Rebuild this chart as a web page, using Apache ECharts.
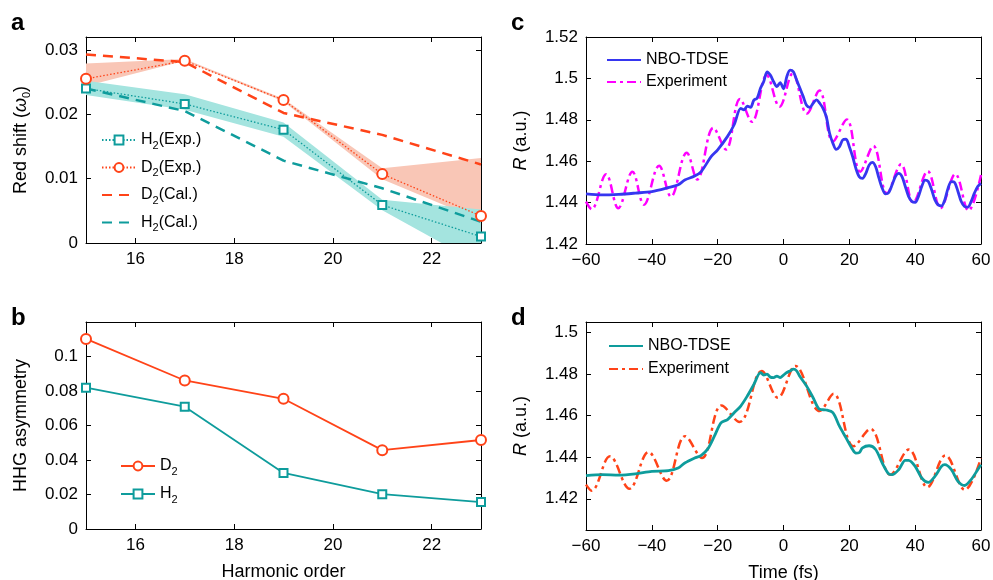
<!DOCTYPE html>
<html lang="en">
<head>
<meta charset="UTF-8">
<title>Red shift, HHG asymmetry and R(t)</title>
<script src="https://cdn.jsdelivr.net/npm/echarts@6/dist/echarts.min.js"></script>
<style>
    html, body { margin: 0; padding: 0; background: #fff; }
    #main { width: 993px; height: 580px; }
</style>
</head>
<body>
<div id="main"></div>
<script type="text/javascript">
    // ---- panel a : red shift vs harmonic order ----
    var harmOrder   = [15, 17, 19, 21, 23];
    var aH2Exp      = [0.0240, 0.0216, 0.0176, 0.0059, 0.0010];
    var aD2Exp      = [0.0255, 0.0283, 0.0222, 0.0107, 0.0042];
    var aD2Cal      = [0.0293, 0.0281, 0.0202, 0.0168, 0.0122];
    var aH2Cal      = [0.0240, 0.0205, 0.0128, 0.0085, 0.0033];
    var aD2BandLo   = [0.0244, 0.0283, 0.0220, 0.0099, 0.0035];
    var aD2BandHi   = [0.0279, 0.0286, 0.0224, 0.0116, 0.0132];
    var aH2BandLo   = [0.0230, 0.0207, 0.0165, 0.0051, -0.0034];
    var aH2BandHi   = [0.0252, 0.0231, 0.0187, 0.0067, 0.0052];

    // ---- panel b : HHG asymmetry ----
    var bD2 = [0.1102, 0.0861, 0.0755, 0.0457, 0.0516];
    var bH2 = [0.0819, 0.0709, 0.0325, 0.0202, 0.0156];

    // ---- panel c : R(t) H2 ----
    var cTdseT = [-60,-55,-50,-45,-40,-35,-32,-30,-27,-25,-22,-20,-17,-15,-13,-12,-11,-10,-9,-8,-7,-6,-5,-4,-3,-2,-1,0,1,2,3,4,5,6,7,8,9,10,11,12,13,14,15,16,17,18,19,20,21,22,23,24,25,26,27,28,29,30,31,32,33,34,35,36,37,38,39,40,41,42,43,44,45,46,47,48,49,50,51,52,53,54,55,56,57,58,59,60];
    var cTdseR = [1.4442,1.4437,1.4440,1.4446,1.4453,1.4472,1.4486,1.4509,1.4528,1.4550,1.4622,1.4655,1.4720,1.4776,1.4855,1.4848,1.4866,1.4860,1.4895,1.4905,1.4952,1.4985,1.5032,1.5016,1.4984,1.4960,1.4980,1.4950,1.5008,1.5040,1.5032,1.4992,1.4952,1.4912,1.4870,1.4860,1.4880,1.4896,1.4880,1.4855,1.4815,1.4735,1.4687,1.4657,1.4670,1.4703,1.4706,1.4670,1.4622,1.4565,1.4525,1.4517,1.4541,1.4581,1.4594,1.4573,1.4518,1.4469,1.4442,1.4449,1.4486,1.4526,1.4541,1.4526,1.4478,1.4430,1.4405,1.4401,1.4430,1.4478,1.4509,1.4502,1.4462,1.4413,1.4389,1.4384,1.4413,1.4470,1.4501,1.4497,1.4454,1.4405,1.4381,1.4378,1.4405,1.4446,1.4478,1.4493];
    var cExpT = [-60,-58.3,-53.9,-50.2,-45.9,-42.4,-37.8,-34.2,-29.4,-26.2,-21.3,-17.5,-13.2,-9.6,-5.1,-1.2,2.8,7.1,10.9,15.0,19.2,23.3,27.3,31.4,35.7,39.4,43.8,47.7,52.2,56.2,60];
    var cExpR = [1.4405,1.4368,1.4537,1.4373,1.4549,1.4390,1.4578,1.4429,1.4641,1.4512,1.4761,1.4657,1.4901,1.4790,1.5016,1.4863,1.5024,1.4830,1.4941,1.4695,1.4802,1.4549,1.4674,1.4445,1.4585,1.4400,1.4552,1.4373,1.4538,1.4361,1.4533];

    // ---- panel d : R(t) D2 ----
    var dTdseT = [-60,-55,-50,-45,-40,-35,-32,-30,-27,-25,-23,-21,-19,-17,-15,-13,-11,-9,-7,-6,-5,-4,-3,-2,-1,0,1,2,3,4,5,7,9,11,13,15,17,19,21,22,23,24,26,28,30,32,33,35,37,38,40,42,44,46,48,49,51,53,55,57,59,60];
    var dTdseR = [1.4311,1.4316,1.4314,1.4320,1.4332,1.4335,1.4348,1.4372,1.4396,1.4409,1.4440,1.4501,1.4565,1.4581,1.4614,1.4646,1.4694,1.4750,1.4807,1.4795,1.4799,1.4785,1.4783,1.4790,1.4783,1.4795,1.4807,1.4815,1.4823,1.4815,1.4788,1.4742,1.4686,1.4630,1.4627,1.4614,1.4549,1.4493,1.4437,1.4420,1.4422,1.4445,1.4455,1.4437,1.4372,1.4319,1.4316,1.4340,1.4385,1.4385,1.4356,1.4300,1.4279,1.4308,1.4356,1.4364,1.4340,1.4284,1.4264,1.4292,1.4340,1.4364];
    var dExpT = [-60,-58.3,-52.7,-46.8,-41.0,-35.5,-29.9,-24.8,-18.8,-13.4,-6.6,-1.7,3.6,11.0,15.2,21.3,26.4,32.5,38.1,43.7,49.2,55.1,60];
    var dExpR = [1.4268,1.4239,1.4404,1.4248,1.4425,1.4287,1.4501,1.4396,1.4649,1.4569,1.4815,1.4686,1.4839,1.4622,1.4705,1.4453,1.4536,1.4316,1.4437,1.4256,1.4409,1.4243,1.4396];

    // tick labels
    var harmTicks = [16, 18, 20, 22];
    var timeTicks = [-60, -40, -20, 0, 20, 40, 60];
    var aTicks = [0, 0.01, 0.02, 0.03];
    var bTicks = [0, 0.02, 0.04, 0.06, 0.08, 0.1];
    var cTicks = [1.42, 1.44, 1.46, 1.48, 1.5, 1.52];
    var dTicks = [1.42, 1.44, 1.46, 1.48, 1.5];

    var FONT = '"Liberation Sans", Arial, Helvetica, sans-serif';
    var teal = '#0e9c9c', red = '#ff4318', blue = '#3636f0', magenta = '#ff00ff';

    function pairs(xs, ys) {
        var out = [];
        for (var i = 0; i < xs.length; i++) out.push([xs[i], ys[i]]);
        return out;
    }
    function triples(xs, lo, hi) {
        var out = [];
        for (var i = 0; i < xs.length; i++) out.push([xs[i], lo[i], hi[i]]);
        return out;
    }
    function minusFmt(v) { return String(v).replace('-', '\u2212'); }

    var subRich = {
        s: { fontSize: 11, fontFamily: FONT, color: '#000', verticalAlign: 'bottom', lineHeight: 10 },
        i: { fontStyle: 'italic', fontSize: 18, fontFamily: FONT, color: '#000' }
    };

    function xPair(gi, min, max, ticks, name) {
        return [{
            type: 'value', gridIndex: gi, min: min, max: max, position: 'bottom',
            axisLine: { show: true, onZero: false, lineStyle: { color: '#000', width: 1 } },
            axisTick: { show: true, inside: true, length: 5, customValues: ticks, lineStyle: { color: '#000' } },
            axisLabel: { customValues: ticks, margin: 8, color: '#000', fontSize: 17, fontFamily: FONT, formatter: minusFmt },
            splitLine: { show: false },
            name: name || '', nameLocation: 'middle', nameGap: 34,
            nameTextStyle: { color: '#000', fontSize: 18, fontFamily: FONT }
        }, {
            type: 'value', gridIndex: gi, min: min, max: max, position: 'top',
            axisLine: { show: true, onZero: false, lineStyle: { color: '#000', width: 1 } },
            axisTick: { show: true, inside: true, length: 5, customValues: ticks, lineStyle: { color: '#000' } },
            axisLabel: { show: false }, splitLine: { show: false }
        }];
    }
    function yPair(gi, min, max, ticks, name) {
        return [{
            type: 'value', gridIndex: gi, min: min, max: max, position: 'left',
            axisLine: { show: true, onZero: false, lineStyle: { color: '#000', width: 1 } },
            axisTick: { show: true, inside: true, length: 5, customValues: ticks, lineStyle: { color: '#000' } },
            axisLabel: { customValues: ticks, margin: 8, color: '#000', fontSize: 17, fontFamily: FONT, formatter: minusFmt },
            splitLine: { show: false },
            name: name, nameLocation: 'middle', nameRotate: 90, nameGap: 54,
            nameTextStyle: { color: '#000', fontSize: 18, fontFamily: FONT, lineHeight: 22, rich: subRich }
        }, {
            type: 'value', gridIndex: gi, min: min, max: max, position: 'right',
            axisLine: { show: true, onZero: false, lineStyle: { color: '#000', width: 1 } },
            axisTick: { show: true, inside: true, length: 5, customValues: ticks, lineStyle: { color: '#000' } },
            axisLabel: { show: false }, splitLine: { show: false }
        }];
    }

    // shaded error band: one polygon through all (x, lo) and (x, hi) points
    function band(gi, lo, hi, color) {
        return {
            type: 'custom', xAxisIndex: gi * 2, yAxisIndex: gi * 2, silent: true, z: 1,
            data: triples(harmOrder, lo, hi),
            encode: { x: 0, y: [1, 2] },
            renderItem: function (params, api) {
                if (params.dataIndexInside !== 0) return null;
                var n = params.dataInsideLength;
                var upper = [], lower = [];
                for (var j = 0; j < n; j++) {
                    upper.push(api.coord([api.value(0, j), api.value(2, j)]));
                    lower.unshift(api.coord([api.value(0, j), api.value(1, j)]));
                }
                var cs = params.coordSys;
                return {
                    type: 'polygon',
                    shape: { points: upper.concat(lower) },
                    style: { fill: color },
                    clipPath: { type: 'rect', shape: { x: cs.x, y: cs.y, width: cs.width, height: cs.height } }
                };
            }
        };
    }

    function legendFmt(name) {
        var n = name.indexOf(':') >= 0 ? name.split(':')[1] : name;
        return n.replace(/^([HD])2/, '$1{s|2}');
    }
    function lineOnly(name) { return { name: name, itemStyle: { opacity: 0 } }; }
    function legendBox(names, left, top, gap, iw) {
        return {
            data: names, orient: 'vertical', left: left, top: top, itemGap: gap,
            itemWidth: iw, itemHeight: 11, formatter: legendFmt, selectedMode: false,
            textStyle: { color: '#000', fontSize: 16, fontFamily: FONT, lineHeight: 22, rich: subRich }
        };
    }

    var myChart = echarts.init(document.getElementById('main'), null, { renderer: 'canvas' });

    var xAxes = [].concat(
        xPair(0, 15, 23, harmTicks),
        xPair(1, 15, 23, harmTicks, 'Harmonic order'),
        xPair(2, -60, 60, timeTicks),
        xPair(3, -60, 60, timeTicks, 'Time (fs)')
    );
    var yAxes = [].concat(
        yPair(0, 0, 0.032, aTicks, 'Red shift ({i|\u03c9}{s|0})'),
        yPair(1, 0, 0.12, bTicks, 'HHG asymmetry'),
        yPair(2, 1.42, 1.52, cTicks, '{i|R} (a.u.)'),
        yPair(3, 1.405, 1.505, dTicks, '{i|R} (a.u.)')
    );

    var series = [
        band(0, aD2BandLo, aD2BandHi, '#f9c6b6'),
        band(0, aH2BandLo, aH2BandHi, '#a4e4df'),
        {
            name: 'D2(Cal.)', type: 'line', xAxisIndex: 0, yAxisIndex: 0, data: pairs(harmOrder, aD2Cal),
            symbol: 'none', lineStyle: { color: red, width: 2.5, type: [10, 7] }, itemStyle: { color: red }, z: 3
        }, {
            name: 'H2(Cal.)', type: 'line', xAxisIndex: 0, yAxisIndex: 0, data: pairs(harmOrder, aH2Cal),
            symbol: 'none', lineStyle: { color: teal, width: 2.5, type: [10, 7] }, itemStyle: { color: teal }, z: 3
        }, {
            name: 'H2(Exp.)', type: 'line', xAxisIndex: 0, yAxisIndex: 0, data: pairs(harmOrder, aH2Exp),
            symbol: 'emptyRect', symbolSize: 8, lineStyle: { color: teal, width: 1.3, type: [1.5, 2] },
            itemStyle: { color: teal, borderWidth: 1.5 }, z: 4
        }, {
            name: 'D2(Exp.)', type: 'line', xAxisIndex: 0, yAxisIndex: 0, data: pairs(harmOrder, aD2Exp),
            symbol: 'emptyCircle', symbolSize: 10, lineStyle: { color: red, width: 1.3, type: [1.5, 2] },
            itemStyle: { color: red, borderWidth: 1.5 }, z: 4
        }, {
            name: 'D2', type: 'line', xAxisIndex: 2, yAxisIndex: 2, data: pairs(harmOrder, bD2),
            symbol: 'emptyCircle', symbolSize: 10, lineStyle: { color: red, width: 1.8 },
            itemStyle: { color: red, borderWidth: 1.5 }
        }, {
            name: 'H2', type: 'line', xAxisIndex: 2, yAxisIndex: 2, data: pairs(harmOrder, bH2),
            symbol: 'emptyRect', symbolSize: 8, lineStyle: { color: teal, width: 1.8 },
            itemStyle: { color: teal, borderWidth: 1.5 }
        }, {
            name: 'c:Experiment', type: 'line', xAxisIndex: 4, yAxisIndex: 4, data: pairs(cExpT, cExpR),
            symbol: 'none', smooth: 0.38, lineStyle: { color: magenta, width: 2.5, type: [9, 4, 3, 4] },
            itemStyle: { color: magenta }, z: 2
        }, {
            name: 'c:NBO-TDSE', type: 'line', xAxisIndex: 4, yAxisIndex: 4, data: pairs(cTdseT, cTdseR),
            symbol: 'none', smooth: 0.3, lineStyle: { color: blue, width: 2.8 }, itemStyle: { color: blue }, z: 3
        }, {
            name: 'd:Experiment', type: 'line', xAxisIndex: 6, yAxisIndex: 6, data: pairs(dExpT, dExpR),
            symbol: 'none', smooth: 0.38, lineStyle: { color: red, width: 2.5, type: [9, 4, 3, 4] },
            itemStyle: { color: red }, z: 2
        }, {
            name: 'd:NBO-TDSE', type: 'line', xAxisIndex: 6, yAxisIndex: 6, data: pairs(dTdseT, dTdseR),
            symbol: 'none', smooth: 0.3, lineStyle: { color: teal, width: 2.8 }, itemStyle: { color: teal }, z: 3
        }
    ];

    var titleStyle = { color: '#000', fontSize: 24, fontWeight: 'bold', fontFamily: FONT };
    var option = {
        animation: false,
        backgroundColor: '#fff',
        title: [
            { text: 'a', left: 11, top: 11, textStyle: titleStyle, padding: 0 },
            { text: 'b', left: 11, top: 306, textStyle: titleStyle, padding: 0 },
            { text: 'c', left: 511, top: 11, textStyle: titleStyle, padding: 0 },
            { text: 'd', left: 511, top: 306, textStyle: titleStyle, padding: 0 }
        ],
        grid: [
            { left: 86, top: 37, width: 395, height: 206, outerBoundsMode: 'none' },
            { left: 86, top: 322, width: 395, height: 207, outerBoundsMode: 'none' },
            { left: 586, top: 37, width: 395, height: 207, outerBoundsMode: 'none' },
            { left: 586, top: 322, width: 395, height: 208, outerBoundsMode: 'none' }
        ],
        legend: [
            legendBox(['H2(Exp.)', 'D2(Exp.)', lineOnly('D2(Cal.)'), lineOnly('H2(Cal.)')], 96, 124, 5.5, 34),
            legendBox(['D2', 'H2'], 115, 450, 6, 34),
            legendBox([lineOnly('c:NBO-TDSE'), lineOnly('c:Experiment')], 601, 44, 0, 34),
            legendBox([lineOnly('d:NBO-TDSE'), lineOnly('d:Experiment')], 603, 330, 1, 34)
        ],
        xAxis: xAxes,
        yAxis: yAxes,
        series: series
    };
    myChart.setOption(option);
</script>
</body>
</html>
